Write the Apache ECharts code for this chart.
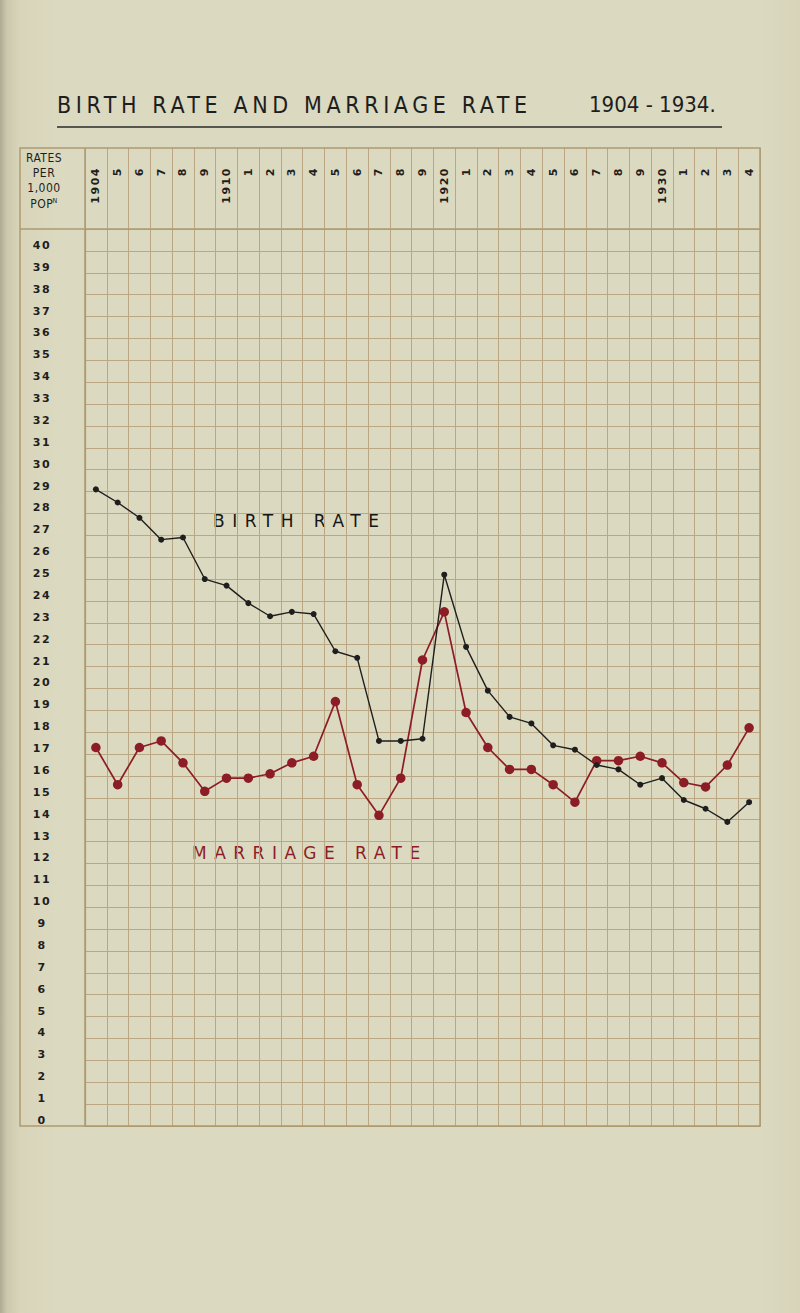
<!DOCTYPE html>
<html>
<head>
<meta charset="utf-8">
<script src="https://cdn.jsdelivr.net/npm/echarts@6/dist/echarts.min.js"></script>
<style>
html,body{margin:0;padding:0;}
body{background:linear-gradient(to right,#aeab93 0px,#cbc8ae 7px,#d8d5bb 20px,#dbd9bf 60px,#dbd9bf 760px,#d7d4ba 800px);}
#c{width:800px;height:1313px;}
#c text[style*="23px"]{letter-spacing:4.6px;}
#c text[style*="17px"]{letter-spacing:7.5px;}
#c text[style*="11px"]{letter-spacing:1.5px;}
#c text[style*="12px"]{letter-spacing:0.5px;}
</style>
</head>
<body>
<div id="c"></div>
<script>
const years = ['1904','1905','1906','1907','1908','1909','1910','1911','1912','1913','1914','1915','1916','1917','1918','1919','1920','1921','1922','1923','1924','1925','1926','1927','1928','1929','1930','1931','1932','1933','1934'];
const xTickLabels = ['1904','5','6','7','8','9','1910','1','2','3','4','5','6','7','8','9','1920','1','2','3','4','5','6','7','8','9','1930','1','2','3','4'];
const birthRate = [29.1,28.5,27.8,26.8,26.9,25.0,24.7,23.9,23.3,23.5,23.4,21.7,21.4,17.6,17.6,17.7,25.2,21.9,19.9,18.7,18.4,17.4,17.2,16.5,16.3,15.6,15.9,14.9,14.5,13.9,14.8];
const marriageRate = [17.3,15.6,17.3,17.6,16.6,15.3,15.9,15.9,16.1,16.6,16.9,19.4,15.6,14.2,15.9,21.3,23.5,18.9,17.3,16.3,16.3,15.6,14.8,16.7,16.7,16.9,16.6,15.7,15.5,16.5,18.2];
const yMin = 0, yMax = 41, yStep = 1;

const lineCol = '#bba783';
const frameCol = '#ad9a72';
const ink = '#1e1e1e';
const red = '#8c1c26';

const hdr = {fontSize: 12, fontFamily: 'DejaVu Sans Condensed', fill: ink, align: 'center', verticalAlign: 'middle'};

const chart = echarts.init(document.getElementById('c'), null, {renderer: 'svg'});
chart.setOption({
  animation: false,
  backgroundColor: 'transparent',
  grid: [
    {left: 85, right: 40, top: 229, bottom: 187, show: false},
    {left: 85, right: 40, top: 148, height: 81, show: false}
  ],
  xAxis: [
    {
      gridIndex: 0, type: 'category', data: years, position: 'top', boundaryGap: true,
      axisLine: {show: true, lineStyle: {color: frameCol, width: 1.2}},
      axisTick: {show: false},
      axisLabel: {
        show: true, interval: 0, rotate: 90, align: 'right', verticalAlign: 'middle', margin: 62,
        fontSize: 11, fontWeight: 'bold', color: ink, fontFamily: 'DejaVu Sans',
        formatter: (v, i) => xTickLabels[i]
      },
      splitLine: {show: true, interval: 0, lineStyle: {color: lineCol, width: 1}}
    },
    {
      gridIndex: 1, type: 'category', data: years, position: 'top', boundaryGap: true,
      axisLine: {show: false}, axisTick: {show: false}, axisLabel: {show: false},
      splitLine: {show: true, interval: 0, lineStyle: {color: lineCol, width: 1}}
    }
  ],
  yAxis: [
    {
      gridIndex: 0, type: 'value', min: yMin, max: yMax, interval: yStep,
      axisLine: {show: true, lineStyle: {color: frameCol, width: 1.2}},
      axisTick: {show: false},
      axisLabel: {
        margin: 43, align: 'center', verticalAlign: 'bottom', fontSize: 11, fontWeight: 'bold',
        color: ink, fontFamily: 'DejaVu Sans',
        formatter: v => (v === yMax ? '' : String(v))
      },
      splitLine: {show: true, lineStyle: {color: lineCol, width: 1}}
    },
    {gridIndex: 1, type: 'value', show: false, min: 0, max: 1}
  ],
  series: [
    {
      name: 'Marriage Rate', type: 'line', xAxisIndex: 0, yAxisIndex: 0, data: marriageRate,
      symbol: 'circle', symbolSize: 9.5,
      lineStyle: {color: red, width: 1.7}, itemStyle: {color: red}
    },
    {
      name: 'Birth Rate', type: 'line', xAxisIndex: 0, yAxisIndex: 0, data: birthRate,
      symbol: 'circle', symbolSize: 6,
      lineStyle: {color: ink, width: 1.4}, itemStyle: {color: ink}
    }
  ],
  graphic: [
    {type: 'rect', shape: {x: 20, y: 148, width: 740, height: 978}, style: {fill: 'none', stroke: frameCol, lineWidth: 1.5}, silent: true, z: 10},
    {type: 'line', shape: {x1: 20, y1: 229, x2: 760, y2: 229}, style: {stroke: frameCol, lineWidth: 1.5}, silent: true, z: 10},
    {type: 'line', shape: {x1: 85, y1: 148, x2: 85, y2: 1126}, style: {stroke: frameCol, lineWidth: 1.5}, silent: true, z: 10},
    {type: 'text', left: 57, top: 93, style: {text: 'BIRTH RATE AND MARRIAGE RATE', fontSize: 23, fontFamily: 'DejaVu Sans Condensed', fill: ink}},
    {type: 'text', left: 589, top: 93, style: {text: '1904 - 1934.', fontSize: 22, fontFamily: 'DejaVu Sans Condensed', fill: ink}},
    {type: 'line', shape: {x1: 57, y1: 127, x2: 722, y2: 127}, style: {stroke: '#2a2a2a', lineWidth: 1.5}, silent: true},
    {type: 'text', x: 44, y: 158, style: Object.assign({text: 'RATES'}, hdr)},
    {type: 'text', x: 44, y: 173, style: Object.assign({text: 'PER'}, hdr)},
    {type: 'text', x: 44, y: 188, style: Object.assign({text: '1,000'}, hdr)},
    {type: 'text', x: 44, y: 204, style: Object.assign({text: '{a|POP}{b|N}',
      rich: {a: {fontSize: 12, fontFamily: 'DejaVu Sans Condensed', fill: ink}, b: {fontSize: 7, fontFamily: 'DejaVu Sans Condensed', fill: ink, verticalAlign: 'top', padding: [0, 0, 6, 0]}}}, hdr)},
    {type: 'text', left: 213, top: 512, style: {text: 'BIRTH RATE', fontSize: 17, fontFamily: 'DejaVu Sans', fill: '#151515'}},
    {type: 'text', left: 192, top: 844, style: {text: 'MARRIAGE RATE', fontSize: 17, fontFamily: 'DejaVu Sans', fill: red}}
  ]
});
</script>
</body>
</html>
